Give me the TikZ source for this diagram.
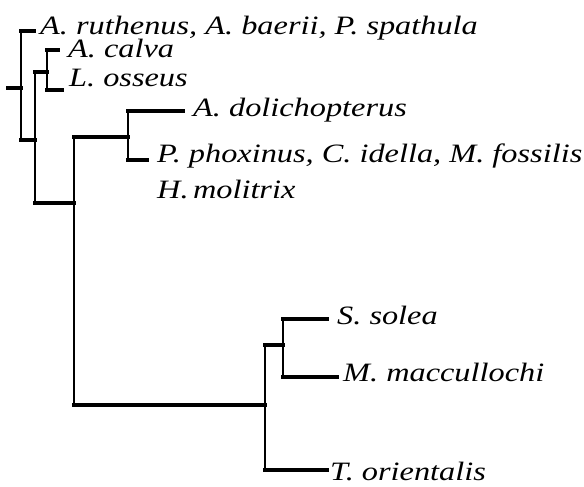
\documentclass[tikz,border=0pt]{standalone}
\usepackage{fontspec}
\newfontfamily\lab{Liberation Serif}[UprightFont=*-Italic,FakeStretch=1.22]
\begin{document}
\begin{tikzpicture}[x=1pt,y=-1pt,
  hl/.style={line width=3.2pt,line cap=rect},
  vl/.style={line width=2.4pt},
  leaf/.style={anchor=west,inner xsep=#1,inner ysep=0pt,text height=17.5pt,text depth=0pt,
    font=\lab\fontsize{26.5}{31}\selectfont},
  leaf/.default=5pt,
  dp/.style={text depth=#1}]
\useasboundingbox (0,0) rectangle (584,487);
% internal nodes
\coordinate (r0) at (8,88);
\coordinate (r) at (21,88);
\coordinate (n1) at (35,140);
\coordinate (n2) at (47,72);
\coordinate (n3) at (74,203);
\coordinate (n4) at (128,137);
\coordinate (n5) at (265,405);
\coordinate (n6) at (283,345);
% leaves
\node[leaf=6pt,dp=9.5pt] (ruth) at (34,31) {A. ruthenus, A. baerii, P. spathula};
\node[leaf=10pt,dp=1.5pt] (calva) at (58,50) {A. calva};
\node[leaf=7pt,dp=23.5pt] (osseus) at (62,90) {L. osseus};
\node[leaf=10pt,dp=7.5pt] (dolich) at (183,111) {A. dolichopterus};
\node[leaf=10pt,dp=13.5pt] (phox) at (147,160) {P. phoxinus, C. idella, M. fossilis};
\node[leaf=10pt,anchor=base west] (hmol) at ([yshift=-36pt]phox.base west) {H.\,molitrix};
\node[leaf=10pt,dp=7.5pt] (solea) at (327,319) {S. solea};
\node[leaf=6pt,dp=9.5pt] (macc) at (337,377) {M. maccullochi};
\node[leaf=3pt,text height=20pt] (orient) at (327,470) {T. orientalis};
% verticals
\draw[vl] (r |- ruth.west) -- (r |- n1);
\draw[vl] (n1 |- n2) -- (n1 |- n3);
\draw[vl] (n2 |- calva) -- (n2 |- osseus);
\draw[vl] (n3 |- n4) -- (n3 |- n5);
\draw[vl] (n4 |- dolich) -- (n4 |- phox);
\draw[vl] (n5 |- n6) -- (n5 |- orient);
\draw[vl] (n6 |- solea) -- (n6 |- macc);
% horizontals
\draw[hl] (r0) -- (r);
\draw[hl] (r |- ruth.west) -- (ruth.west);
\draw[hl] (r |- n1) -- (n1);
\draw[hl] (n1 |- n2) -- (n2);
\draw[hl] (n1 |- n3) -- (n3);
\draw[hl] (n2 |- calva) -- (calva.west);
\draw[hl] (n2 |- osseus) -- (osseus.west);
\draw[hl] (n3 |- n4) -- (n4);
\draw[hl] (n3 |- n5) -- (n5);
\draw[hl] (n4 |- dolich) -- (dolich.west);
\draw[hl] (n4 |- phox) -- (phox.west);
\draw[hl] (n5 |- n6) -- (n6);
\draw[hl] (n5 |- orient) -- (orient.west);
\draw[hl] (n6 |- solea) -- (solea.west);
\draw[hl] (n6 |- macc) -- (macc.west);
\end{tikzpicture}
\end{document}
